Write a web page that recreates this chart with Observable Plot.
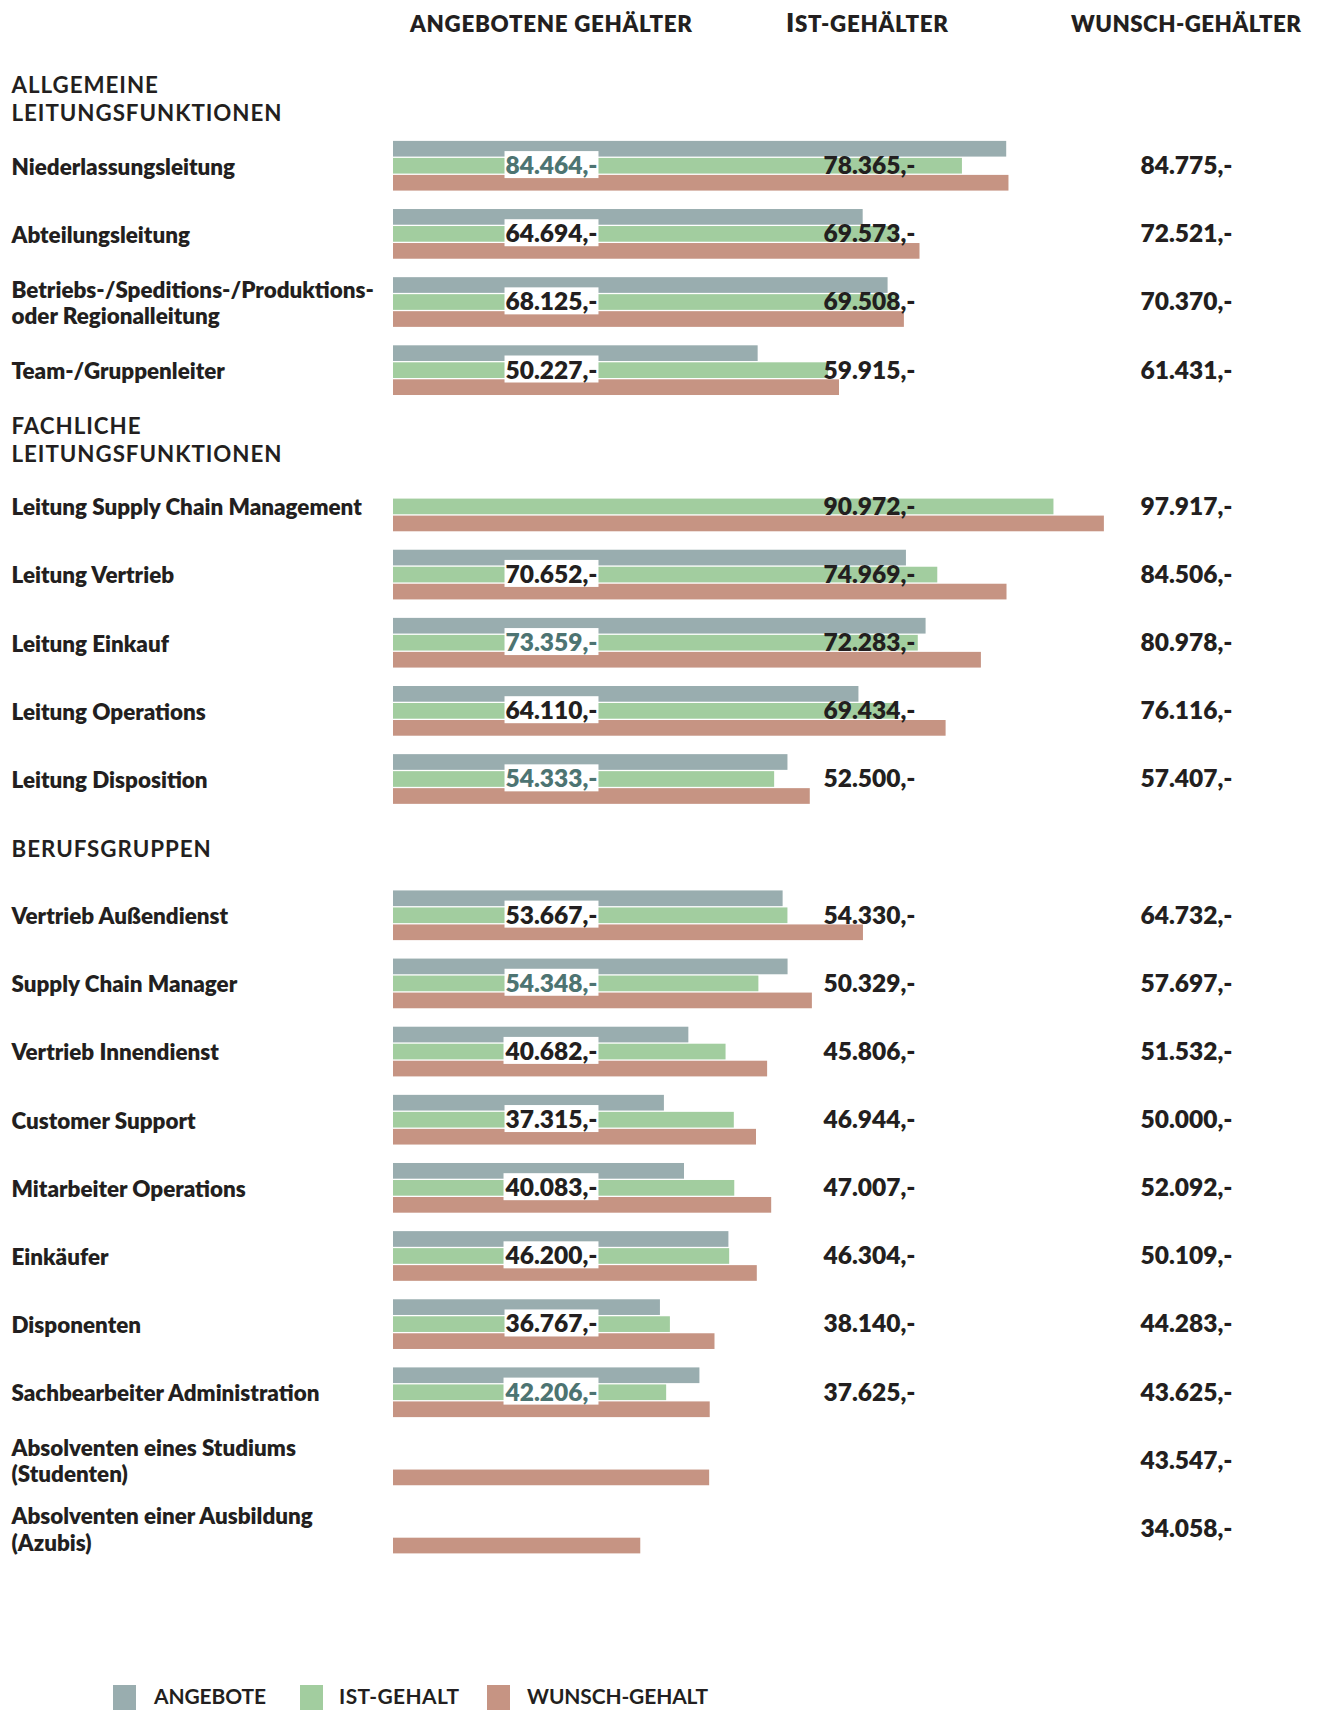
<!DOCTYPE html>
<html lang="de">
<head>
<meta charset="utf-8">
<script src="https://cdn.jsdelivr.net/npm/d3@7"></script>
<script src="https://cdn.jsdelivr.net/npm/@observablehq/plot@0.6"></script>
<style>
  html, body { margin: 0; padding: 0; background: #fff; }
  body { font-family: Lato, "Noto Sans", sans-serif; color: #231f20; }
  #page { position: relative; width: 1317px; height: 1710px; overflow: hidden; }
  #heads { position: relative; width: 1317px; height: 56px; }
  #chart { position: relative; width: 1317px; }
  #chart svg { display: block; }
  #legend { position: relative; width: 1317px; height: 127px; }
  .t { position: absolute; white-space: nowrap; line-height: 1; color: #231f20; }
  .sw { position: absolute; }
</style>
</head>
<body>
<div id="page">
  <div id="heads"></div>
  <div id="chart"></div>
  <div id="legend"></div>
</div>
<script>
// ---------------- data ----------------
const categories = [
  "ALLGEMEINE\nLEITUNGSFUNKTIONEN",
  "Niederlassungsleitung",
  "Abteilungsleitung",
  "Betriebs-/Speditions-/Produktions-\noder Regionalleitung",
  "Team-/Gruppenleiter",
  "FACHLICHE\nLEITUNGSFUNKTIONEN",
  "Leitung Supply Chain Management",
  "Leitung Vertrieb",
  "Leitung Einkauf",
  "Leitung Operations",
  "Leitung Disposition",
  "BERUFSGRUPPEN",
  "Vertrieb Außendienst",
  "Supply Chain Manager",
  "Vertrieb Innendienst",
  "Customer Support",
  "Mitarbeiter Operations",
  "Einkäufer",
  "Disponenten",
  "Sachbearbeiter Administration",
  "Absolventen eines Studiums\n(Studenten)",
  "Absolventen einer Ausbildung\n(Azubis)"
];
const rowType = ["section","item","item","item","item","section","item","item","item","item","item",
  "section","item","item","item","item","item","item","item","item","item","item"];
const angebote = [null, 84464, 64694, 68125, 50227, null, null, 70652, 73359, 64110, 54333,
  null, 53667, 54348, 40682, 37315, 40083, 46200, 36767, 42206, null, null];
const istGehalt = [null, 78365, 69573, 69508, 59915, null, 90972, 74969, 72283, 69434, 52500,
  null, 54330, 50329, 45806, 46944, 47007, 46304, 38140, 37625, null, null];
const wunschGehalt = [null, 84775, 72521, 70370, 61431, null, 97917, 84506, 80978, 76116, 57407,
  null, 64732, 57697, 51532, 50000, 52092, 50109, 44283, 43625, 43547, 34058];
const columnTitles = ["ANGEBOTENE GEHÄLTER", "IST-GEHÄLTER", "WUNSCH-GEHÄLTER"];
const seriesNames = ["ANGEBOTE", "IST-GEHALT", "WUNSCH-GEHALT"];
const seriesColors = ["#99adaf", "#a2cd9f", "#c69483"];

// ---------------- style / layout ----------------
const DARK = "#231f20";
const TEAL = "#4d7472";
const FONT = "Lato";
const CAP = 0.7165;
const W = 1317;
const H = 1527;
const mLeft = 393, mRight = 198;
const mTop = 7.53, mBottom = 20.39;
const nSlots = categories.length;
const bw = (H - mTop - mBottom) / nSlots;   // band width per row
const barH = 15.7, pitch = 17;
const colX = [551, 869, 1186];                // label column centres
const labelX = 11;
const NUMW = 800, CATW = 800, HEADW = 800, SECW = 700, LEGW = 700;

const canvas = document.createElement("canvas");
const ctx = canvas.getContext("2d");
function textWidth(t, size, weight = 700) {
  ctx.font = `${weight} ${size}px ${FONT}`;
  return ctx.measureText(t).width;
}
function sizeForWidth(t, target, weight = 700) { return 100 * target / textWidth(t, 100, weight); }
function spacingFor(t, size, target, weight = 700) { return (target - textWidth(t, size, weight)) / (t.length - 1); }

const catSize = sizeForWidth("Leitung Supply Chain Management", 351, CATW);
const numSize = sizeForWidth("84.464,-", 92, NUMW);
const secSize = 16 / CAP;
const secSpacing = spacingFor("LEITUNGSFUNKTIONEN", secSize, 270, SECW);

const de = d3.formatLocale({decimal: ",", thousands: ".", grouping: [3], currency: ["", "€"]});
const fmtNum = de.format(",d");
const fmt = v => fmtNum(v) + ",-";

const rows = categories.map((c, i) => ({
  slot: i, label: c, type: rowType[i],
  a: angebote[i], ist: istGehalt[i], w: wunschGehalt[i]
}));
const items = rows.filter(d => d.type === "item");
const sections = rows.filter(d => d.type === "section");

// ---------------- header (column titles) ----------------
const heads = document.getElementById("heads");
function placeText(parent, text, left, cy, size, spacing, weight, bigFirst) {
  const el = document.createElement("div");
  el.className = "t";
  el.style.fontSize = size + "px";
  el.style.fontWeight = weight;
  el.style.letterSpacing = spacing + "px";
  el.style.left = left + "px";
  el.style.top = (cy - 0.529 * size) + "px";
  if (bigFirst) {
    const s = document.createElement("span");
    s.textContent = text[0];
    s.style.fontSize = (size * 1.2) + "px";
    s.style.lineHeight = "0";
    el.appendChild(s);
    el.appendChild(document.createTextNode(text.slice(1)));
  } else {
    el.textContent = text;
  }
  parent.appendChild(el);
  return el;
}
const headSize = 16 / CAP;
const headSpans = [[410, 282], [786, 162], [1071, 230]];
columnTitles.forEach((t, i) => {
  const [left, width] = headSpans[i];
  let natural = textWidth(t, headSize, HEADW);
  if (i === 1) natural = textWidth(t[0], headSize * 1.2, HEADW) + textWidth(t.slice(1), headSize, HEADW);
  const ls = (width - natural) / (t.length - 1);
  placeText(heads, t, left, 24.7, headSize, ls, HEADW, i === 1);
});

// ---------------- chart ----------------
const insetGreen = (bw - barH) / 2;
const inset = [
  [insetGreen - pitch, insetGreen + pitch],
  [insetGreen, insetGreen],
  [insetGreen + pitch, insetGreen - pitch]
];
const keys = ["a", "ist", "w"];

const marks = [];
keys.forEach((k, i) => {
  marks.push(Plot.barX(items.filter(d => d[k] != null), {
    x: k, y: "slot", fill: seriesColors[i],
    insetTop: inset[i][0], insetBottom: inset[i][1]
  }));
});
// category labels
marks.push(Plot.text(items, {
  y: "slot", text: "label", frameAnchor: "left", dx: labelX - mLeft,
  textAnchor: "start", fontSize: catSize, fontWeight: CATW, fill: DARK, lineHeight: 1.17
}));
// section headers
marks.push(Plot.text(sections, {
  y: "slot", text: "label", frameAnchor: "left", dx: labelX - mLeft,
  textAnchor: "start", fontSize: secSize, fontWeight: SECW, fill: DARK, lineHeight: 1.27,
  ariaDescription: "section-headers"
}));
// angebote labels (teal if offer > actual salary)
const withA = items.filter(d => d.a != null);
const offerAbove = d => d.ist != null && d.a > d.ist;
marks.push(Plot.text(withA.filter(offerAbove), {
  y: "slot", text: d => fmt(d.a), frameAnchor: "left", dx: colX[0] - mLeft,
  textAnchor: "middle", fontSize: numSize, fontWeight: NUMW, fill: TEAL,
  ariaDescription: "angebote-labels"
}));
marks.push(Plot.text(withA.filter(d => !offerAbove(d)), {
  y: "slot", text: d => fmt(d.a), frameAnchor: "left", dx: colX[0] - mLeft,
  textAnchor: "middle", fontSize: numSize, fontWeight: NUMW, fill: DARK,
  ariaDescription: "angebote-labels"
}));
marks.push(Plot.text(items.filter(d => d.ist != null), {
  y: "slot", text: d => fmt(d.ist), frameAnchor: "left", dx: colX[1] - mLeft,
  textAnchor: "middle", fontSize: numSize, fontWeight: NUMW, fill: DARK
}));
marks.push(Plot.text(items.filter(d => d.w != null), {
  y: "slot", text: d => fmt(d.w), frameAnchor: "left", dx: colX[2] - mLeft,
  textAnchor: "middle", fontSize: numSize, fontWeight: NUMW, fill: DARK
}));

const svg = Plot.plot({
  width: W, height: H,
  marginLeft: mLeft, marginRight: mRight, marginTop: mTop, marginBottom: mBottom,
  style: {fontFamily: FONT, background: "#fff", color: DARK, overflow: "visible"},
  x: {domain: [0, 100000], axis: null},
  y: {type: "band", domain: d3.range(nSlots), padding: 0, round: false, axis: null},
  marks
});
document.getElementById("chart").appendChild(svg);

// letter spacing for section headers
svg.querySelectorAll('g[aria-description="section-headers"] text').forEach(t => {
  t.style.letterSpacing = secSpacing + "px";
});
// white boxes behind the offered-salary labels
svg.querySelectorAll('g[aria-description="angebote-labels"] text').forEach(t => {
  const bb = t.getBBox();
  const cy = bb.y + bb.height / 2;
  const r = document.createElementNS("http://www.w3.org/2000/svg", "rect");
  r.setAttribute("x", bb.x - 1);
  r.setAttribute("width", bb.width + 2);
  r.setAttribute("y", cy - 13.5);
  r.setAttribute("height", 27);
  r.setAttribute("fill", "#fff");
  if (t.getAttribute("transform")) r.setAttribute("transform", t.getAttribute("transform"));
  t.parentNode.insertBefore(r, t);
});

// ---------------- legend ----------------
const legend = document.getElementById("legend");
const legSwX = [113, 300, 487];
const legTxt = [[154, 112], [339, 120], [527, 181]];
const legSize = 15 / CAP;
seriesNames.forEach((name, i) => {
  const sw = document.createElement("div");
  sw.className = "sw";
  sw.style.left = legSwX[i] + "px";
  sw.style.top = "102px";
  sw.style.width = "23px";
  sw.style.height = "25px";
  sw.style.background = seriesColors[i];
  legend.appendChild(sw);
  const [left, width] = legTxt[i];
  placeText(legend, name, left, 114, legSize, spacingFor(name, legSize, width, LEGW), LEGW, false);
});
</script>
</body>
</html>
